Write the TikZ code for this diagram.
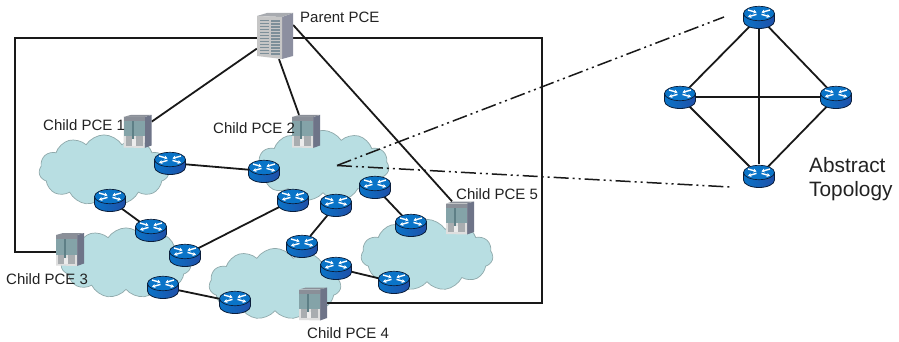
\documentclass[tikz,border=0pt]{standalone}
\usepackage{fontspec}
\setmainfont{Liberation Sans}
\usetikzlibrary{shapes.symbols,shapes.geometric,arrows.meta,calc}
\pgfdeclarelayer{clouds}
\pgfdeclarelayer{links}
\pgfsetlayers{clouds,links,main}
\definecolor{cloudfill}{HTML}{B8DEE2}
\definecolor{cloudline}{HTML}{8FA9AB}
\definecolor{rtop}{HTML}{0A74C8}
\definecolor{rlow}{HTML}{1F4FA8}
\definecolor{rline}{HTML}{0B1E3A}
\definecolor{txt}{HTML}{222222}
\definecolor{srvside}{HTML}{6E7488}
\definecolor{srvpanel}{HTML}{84A3A8}
\definecolor{srvslot}{HTML}{5E7F86}
\definecolor{srvtop}{HTML}{8A8F98}
\definecolor{srvlow}{HTML}{A9ADB0}
\definecolor{psilver}{HTML}{A8ABB0}
\definecolor{pside}{HTML}{8C8FA0}
\definecolor{pbar}{HTML}{7D8F99}
\tikzset{
  netcloud/.style={cloud,cloud puffs=11,cloud puff arc=115,aspect=1.85,draw=cloudline,fill=cloudfill,line width=0.7pt,inner sep=0pt,minimum width=#1,minimum height=0.54*#1},
  routernode/.style={ellipse,minimum width=31pt,minimum height=23pt,inner sep=0pt},
  servernode/.style={rectangle,minimum width=28pt,minimum height=33pt,inner sep=0pt},
  parentnode/.style={rectangle,minimum width=36pt,minimum height=46pt,inner sep=0pt},
  link/.style={line width=1.8pt,draw=black!90},
  abstractline/.style={line width=1.5pt,draw=black!90,dash pattern=on 15pt off 4pt on 2pt off 4pt on 2pt off 4pt},
  lbl/.style={inner sep=0pt,font=\fontsize{15pt}{16pt}\selectfont,text=txt,anchor=west},
  arroww/.style={white,line width=1.4pt,-{Stealth[length=3.2pt,width=4pt]}},
}
\newcommand{\routerat}[3]{%
  \node[routernode] (#1) at (#2,#3) {};
  \begin{scope}[shift={(#1.center)}]
    \path[left color=rtop,right color=rlow,draw=rline,line width=0.8pt]
      (-15.5,-3.5) -- (-15.5,4) .. controls (-15.5,8.5) and (-8,11.5) .. (0,11.5) .. controls (8,11.5) and (15.5,8.5) .. (15.5,4) -- (15.5,-3.5) -- cycle;
    \path[fill=rtop,draw=rline,line width=0.7pt] (0,-3.5) ellipse[x radius=15.5,y radius=7.2];
    \draw[arroww] (-11,-7) -- (-2.5,-4.6);
    \draw[arroww] (11,-7) -- (2.5,-4.6);
    \draw[arroww] (-2.5,-2.6) -- (-11,-0.2);
    \draw[arroww] (2.5,-2.6) -- (11,-0.2);
  \end{scope}}
\newcommand{\serverat}[3]{%
  \node[servernode] (#1) at (#2,#3) {};
  \begin{scope}[shift={(#1.center)}]
    \fill[srvside] (7,-14.5) -- (14,-16.5) -- (14,14) -- (7,16.5) -- cycle;
    \fill[srvtop] (-14,-14.5) -- (7,-14.5) -- (14,-16.5) -- (-7,-16.5) -- cycle;
    \fill[gray!25] (-14,-14.5) -- (7,-14.5) -- (7,16.5) -- (-14,16) -- cycle;
    \fill[srvtop] (-14,-14.5) rectangle (7,-10.5);
    \fill[srvpanel] (-14,-10.5) rectangle (7,5);
    \fill[srvslot] (-6,-10.5) rectangle (-4,8);
    \fill[srvlow] (-12,5) rectangle (-6,14);
    \fill[srvlow] (-2,5) rectangle (5,14);
    \fill[white!85!gray] (-6,8) rectangle (-2,14);
  \end{scope}}
\newcommand{\parentat}[3]{%
  \node[parentnode] (#1) at (#2,#3) {};
  \begin{scope}[shift={(#1.center)}]
    \fill[pside] (7,-19) -- (18,-23) -- (18,20) -- (7,23) -- cycle;
    \fill[psilver] (-18,-20) -- (7,-19) -- (18,-23) -- (-8,-23) -- cycle;
    \fill[gray!45] (-18,-20) -- (7,-19) -- (7,23) -- (-18,20) -- cycle;
    \foreach \k in {0,...,11}{
      \fill[pbar] (-15,-16+\k*3) rectangle (-6,-14.6+\k*3);
      \fill[pbar] (-4,-15.8+\k*3) rectangle (5,-14.4+\k*3);
    }
  \end{scope}}
\begin{document}
\begin{tikzpicture}[x=1pt,y=-1pt]
\useasboundingbox (0,0) rectangle (899,342);

\begin{pgfonlayer}{clouds}
  \fill[white] (0,0) rectangle (899,342);
  \node[netcloud=130pt] (cl1) at (104,170) {};
  \node[netcloud=132pt] (cl2) at (323,166) {};
  \node[netcloud=130pt] (cl3) at (126,263) {};
  \node[netcloud=132pt] (cl4) at (275,284) {};
  \node[netcloud=132pt] (cl5) at (427,255) {};
\end{pgfonlayer}

\routerat{ra}{170}{163}
\routerat{rb}{264}{171}
\routerat{rc}{110}{200}
\routerat{rd}{151}{230}
\routerat{re}{185}{255}
\routerat{rf}{163}{287}
\routerat{rg}{235}{302}
\routerat{rh}{293}{200}
\routerat{ri}{336}{205}
\routerat{rj}{375}{187}
\routerat{rk}{411}{225}
\routerat{rl}{302}{246}
\routerat{rm}{336}{268}
\routerat{rn}{394}{282}
\routerat{at}{759}{17}
\routerat{al}{680}{97}
\routerat{ar}{836}{97}
\routerat{ab}{759}{176}

\parentat{parent}{275}{36}
\serverat{cone}{137.5}{131.5}
\serverat{ctwo}{306}{131.5}
\serverat{cthree}{70}{249.5}
\serverat{cfour}{313}{304}
\serverat{cfive}{460}{218}

\node[lbl] (tparent) at (300,17) {Parent PCE};
\node[lbl] (tone) at (43,125) {Child PCE 1};
\node[lbl] (ttwo) at (213,128) {Child PCE 2};
\node[lbl] (tthree) at (6,279) {Child PCE 3};
\node[lbl] (tfour) at (307,333) {Child PCE 4};
\node[lbl] (tfive) at (456,194) {Child PCE 5};
\node[lbl,font=\fontsize{20.8pt}{24pt}\selectfont,align=left] (tabs) at (809,179) {Abstract\\Topology};

\coordinate (tl) at (15,38);
\coordinate (bl) at (15,252);
\coordinate (tr) at (542,38);
\coordinate (br) at (542,303);
\coordinate (hub) at (337,165.5);
\coordinate (endt) at (724,17);
\coordinate (endb) at (730,187);

\begin{pgfonlayer}{links}
  \draw[link,line join=miter] (parent.west |- tl) -- (tl) -- (bl) -- (cthree.west |- bl);
  \draw[link,line join=miter] (parent.east |- tr) -- (tr) -- (br) -- (cfour.east |- br);
  \draw[link] (parent) -- (cone);
  \draw[link] ([xshift=4pt]parent.south) -- ([xshift=-7pt]ctwo.north);
  \draw[link] ([yshift=11pt]parent.east) -- ([xshift=-8pt]cfive.north);
  \draw[link] (ra) -- (rb);
  \draw[link] (rc) -- (rd);
  \draw[link] (re) -- (rh);
  \draw[link] (rf) -- (rg);
  \draw[link] (ri) -- (rl);
  \draw[link] (rj) -- (rk);
  \draw[link] (rm) -- (rn);
  \draw[link] (at) -- (al);
  \draw[link] (at) -- (ar);
  \draw[link] (at) -- (ab);
  \draw[link] (al) -- (ar);
  \draw[link] (al) -- (ab);
  \draw[link] (ar) -- (ab);
  \draw[abstractline] (hub) -- (endt);
  \draw[abstractline] (hub) -- (endb);
\end{pgfonlayer}
\end{tikzpicture}
\end{document}
